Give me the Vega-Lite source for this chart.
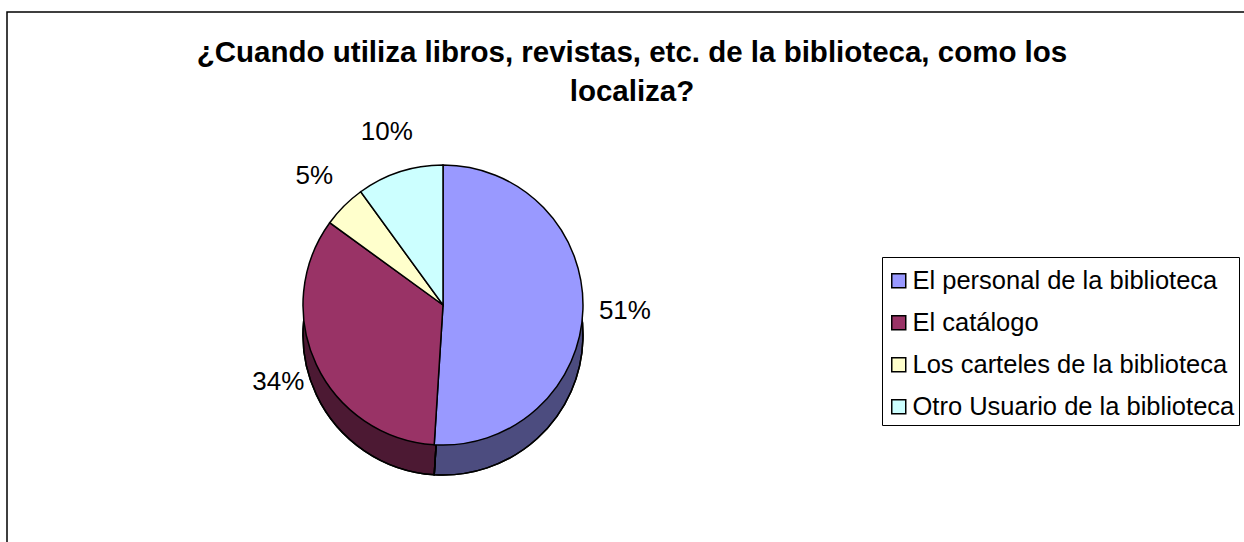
{
  "$schema": "https://vega.github.io/schema/vega-lite/v6.json",
  "width": 1250,
  "height": 540,
  "autosize": {"type": "none"},
  "padding": {"left": 7, "top": 12, "right": 0, "bottom": 0},
  "background": "white",
  "title": {
    "text": ["¿Cuando utiliza libros, revistas, etc. de la biblioteca, como los", "localiza?"],
    "font": "Liberation Sans",
    "fontSize": 29.5,
    "fontWeight": "bold",
    "color": "black",
    "anchor": "middle",
    "offset": -95,
    "lineHeight": 39
  },
  "config": {
    "view": {"stroke": "black", "strokeWidth": 1.5},
    "font": "Liberation Sans"
  },
  "data": {
    "values": [
      {"respuesta": "El personal de la biblioteca", "porcentaje": 0.51, "orden": 1},
      {"respuesta": "El catálogo", "porcentaje": 0.34, "orden": 2},
      {"respuesta": "Los carteles de la biblioteca", "porcentaje": 0.05, "orden": 3},
      {"respuesta": "Otro Usuario de la biblioteca", "porcentaje": 0.10, "orden": 4}
    ]
  },
  "encoding": {
    "theta": {"field": "porcentaje", "type": "quantitative", "stack": true},
    "order": {"field": "orden", "type": "quantitative"},
    "x": {"datum": 0.3488, "type": "quantitative", "scale": {"domain": [0, 1]}, "axis": null},
    "y": {"datum": 0.4574, "type": "quantitative", "scale": {"domain": [0, 1]}, "axis": null}
  },
  "layer": [
    {
      "mark": {"type": "arc", "radius": 140, "yOffset": 30, "stroke": "black", "strokeWidth": 1.5},
      "encoding": {
        "color": {
          "field": "respuesta", "type": "nominal",
          "scale": {
            "domain": ["El personal de la biblioteca", "El catálogo", "Los carteles de la biblioteca", "Otro Usuario de la biblioteca"],
            "range": ["#9999FF", "#993366", "#FFFFCC", "#CCFFFF"]
          },
          "legend": {
            "title": " ", "titleFontSize": 4, "titlePadding": 3,
            "orient": "none", "legendX": 875, "legendY": 245,
            "strokeColor": "black", "fillColor": "white", "padding": 4,
            "symbolType": "square", "symbolSize": 196, "symbolStrokeColor": "black", "symbolStrokeWidth": 1.5,
            "labelFontSize": 25.5, "labelFont": "Liberation Sans", "labelColor": "black",
            "rowPadding": 15, "labelOffset": 1, "labelLimit": 0
          }
        }
      }
    },
    {
      "mark": {"type": "arc", "radius": 140, "yOffset": 30, "fill": "black", "fillOpacity": 0.5, "stroke": "black", "strokeWidth": 1.5}
    },
    {
      "mark": {"type": "arc", "radius": 140, "stroke": "black", "strokeWidth": 1.5},
      "encoding": {
        "color": {
          "field": "respuesta", "type": "nominal",
          "scale": {
            "domain": ["El personal de la biblioteca", "El catálogo", "Los carteles de la biblioteca", "Otro Usuario de la biblioteca"],
            "range": ["#9999FF", "#993366", "#FFFFCC", "#CCFFFF"]
          },
          "legend": {
            "title": " ", "titleFontSize": 4, "titlePadding": 3,
            "orient": "none", "legendX": 875, "legendY": 245,
            "strokeColor": "black", "fillColor": "white", "padding": 4,
            "symbolType": "square", "symbolSize": 196, "symbolStrokeColor": "black", "symbolStrokeWidth": 1.5,
            "labelFontSize": 25.5, "labelFont": "Liberation Sans", "labelColor": "black",
            "rowPadding": 15, "labelOffset": 1, "labelLimit": 0
          }
        }
      }
    },
    {
      "mark": {"type": "text", "radius": 182, "fontSize": 26, "font": "Liberation Sans", "color": "black"},
      "encoding": {
        "text": {"field": "porcentaje", "type": "quantitative", "format": ".0%"}
      }
    }
  ]
}
